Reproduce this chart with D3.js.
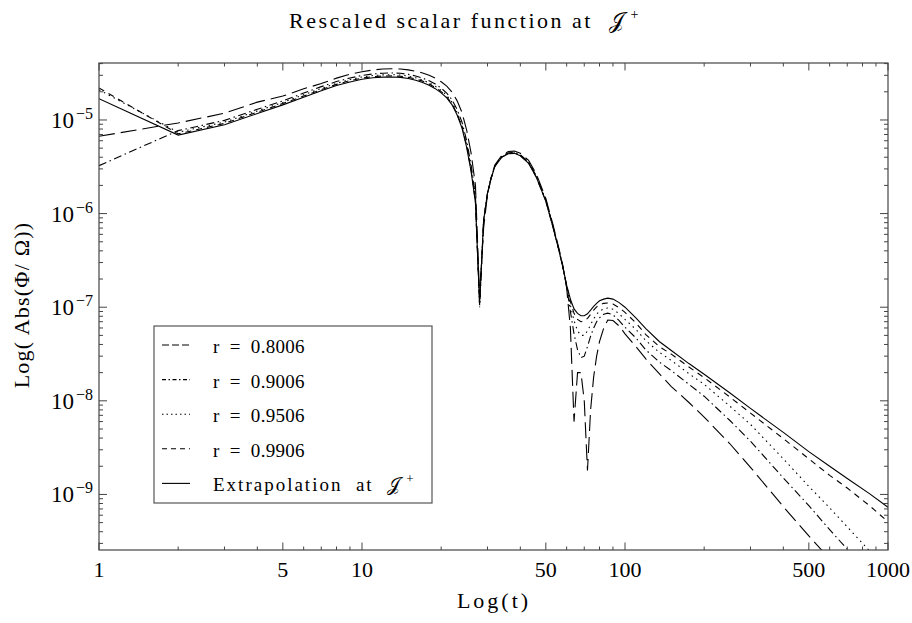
<!DOCTYPE html>
<html><head><meta charset="utf-8">
<script src="https://cdn.jsdelivr.net/npm/d3@7"></script>
<style>
html,body{margin:0;padding:0;background:#fff;}
svg{display:block;}
text{font-family:"Liberation Serif","Times New Roman",serif;fill:#000;white-space:pre;}
</style></head><body>
<svg id="chart" width="912" height="623"></svg>
<script>
const times = [1,2,3,4,5,6,7,8,9,10,11,12,13,14,15,16,17,18,19,20,21,22,23,24,25,26,27,28,29,30,31,32,34,36,38,40,43,46,50,53,56,58,60,62,64,66,68,70,72,74,76,78,80,83,86,90,95,100,110,120,135,150,175,200,250,300,400,500,600,700,850,1000];

const r08006 = [6.7e-6,9.3e-6,1.18e-5,1.55e-5,1.8e-5,2.15e-5,2.45e-5,2.8e-5,3.08e-5,3.28e-5,3.42e-5,3.5e-5,3.52e-5,3.5e-5,3.43e-5,3.32e-5,3.18e-5,3.0e-5,2.8e-5,2.56e-5,2.3e-5,1.98e-5,1.6e-5,1.2e-5,7.8e-6,4.4e-6,2.0e-6,1.3e-7,7.0e-7,1.6e-6,2.45e-6,3.3e-6,4.2e-6,4.6e-6,4.65e-6,4.4e-6,3.7e-6,2.65e-6,1.45e-6,8.0e-7,4.3e-7,2.8e-7,1.6e-7,6e-8,6e-9,2.0e-8,2.0e-8,1.0e-8,1.8e-9,8e-9,1.8e-8,3.0e-8,4.3e-8,6.0e-8,7.3e-8,7.2e-8,6.3e-8,5.2e-8,3.8e-8,2.8e-8,1.95e-8,1.42e-8,9.6e-9,6.7e-9,3.5e-9,1.95e-9,7.4e-10,3.6e-10,2.05e-10,1.15e-10,6.0e-11,3.7e-11];

const r09006 = [3.25e-6,7.7e-6,9.9e-6,1.3e-5,1.6e-5,1.94e-5,2.27e-5,2.57e-5,2.81e-5,2.99e-5,3.1e-5,3.16e-5,3.18e-5,3.15e-5,3.07e-5,2.95e-5,2.8e-5,2.62e-5,2.42e-5,2.19e-5,1.94e-5,1.64e-5,1.29e-5,9.5e-6,6.0e-6,3.3e-6,1.55e-6,1.05e-7,8.2e-7,1.65e-6,2.42e-6,3.25e-6,4.1e-6,4.45e-6,4.5e-6,4.25e-6,3.55e-6,2.52e-6,1.39e-6,7.7e-7,4.2e-7,2.75e-7,1.65e-7,9e-8,5.2e-8,3.5e-8,2.9e-8,3.0e-8,3.8e-8,4.9e-8,6.0e-8,7.0e-8,7.7e-8,8.4e-8,8.65e-8,8.3e-8,7.2e-8,6.1e-8,4.7e-8,3.5e-8,2.6e-8,2.1e-8,1.5e-8,1.12e-8,6.2e-9,3.7e-9,1.5e-9,7.6e-10,4.2e-10,2.6e-10,1.5e-10,9.2e-11];

const r09506 = [2.1e-5,7.4e-6,9.5e-6,1.25e-5,1.54e-5,1.86e-5,2.17e-5,2.46e-5,2.7e-5,2.88e-5,2.98e-5,3.03e-5,3.05e-5,3.02e-5,2.94e-5,2.82e-5,2.67e-5,2.49e-5,2.29e-5,2.07e-5,1.83e-5,1.54e-5,1.2e-5,8.8e-6,5.5e-6,3.0e-6,1.4e-6,1.0e-7,8.4e-7,1.65e-6,2.41e-6,3.22e-6,4.05e-6,4.4e-6,4.45e-6,4.2e-6,3.5e-6,2.48e-6,1.37e-6,7.6e-7,4.15e-7,2.72e-7,1.68e-7,1.05e-7,7.2e-8,5.6e-8,5.0e-8,5.0e-8,5.6e-8,6.5e-8,7.5e-8,8.4e-8,9.1e-8,9.6e-8,9.8e-8,9.5e-8,8.5e-8,7.4e-8,5.8e-8,4.4e-8,3.3e-8,2.7e-8,1.95e-8,1.5e-8,8.8e-9,5.6e-9,2.4e-9,1.22e-9,7.2e-10,4.5e-10,2.5e-10,1.55e-10];

const r09906 = [2.2e-5,7.1e-6,9.2e-6,1.21e-5,1.5e-5,1.8e-5,2.11e-5,2.4e-5,2.63e-5,2.8e-5,2.9e-5,2.95e-5,2.96e-5,2.93e-5,2.85e-5,2.74e-5,2.6e-5,2.42e-5,2.22e-5,2.01e-5,1.77e-5,1.49e-5,1.16e-5,8.5e-6,5.3e-6,2.9e-6,1.35e-6,1.05e-7,8.5e-7,1.65e-6,2.4e-6,3.2e-6,4.02e-6,4.37e-6,4.42e-6,4.17e-6,3.47e-6,2.46e-6,1.36e-6,7.55e-7,4.12e-7,2.71e-7,1.7e-7,1.15e-7,8.6e-8,7.4e-8,7.0e-8,7.1e-8,7.6e-8,8.4e-8,9.3e-8,1.01e-7,1.06e-7,1.1e-7,1.11e-7,1.08e-7,9.9e-8,8.8e-8,6.8e-8,5.1e-8,3.8e-8,3.15e-8,2.3e-8,1.77e-8,1.1e-8,7.4e-9,3.95e-9,2.4e-9,1.6e-9,1.17e-9,7.6e-10,5.1e-10];

const extrapolation = [1.69e-5,6.9e-6,8.9e-6,1.17e-5,1.45e-5,1.75e-5,2.05e-5,2.33e-5,2.55e-5,2.72e-5,2.82e-5,2.87e-5,2.88e-5,2.85e-5,2.77e-5,2.66e-5,2.52e-5,2.35e-5,2.16e-5,1.95e-5,1.72e-5,1.45e-5,1.13e-5,8.2e-6,5.1e-6,2.8e-6,1.3e-6,1.1e-7,8.5e-7,1.65e-6,2.4e-6,3.2e-6,4.0e-6,4.35e-6,4.4e-6,4.15e-6,3.45e-6,2.45e-6,1.35e-6,7.5e-7,4.1e-7,2.7e-7,1.72e-7,1.22e-7,9.6e-8,8.6e-8,8.1e-8,8.1e-8,8.5e-8,9.3e-8,1.02e-7,1.1e-7,1.17e-7,1.22e-7,1.25e-7,1.22e-7,1.12e-7,1.0e-7,7.7e-8,5.9e-8,4.3e-8,3.45e-8,2.5e-8,1.92e-8,1.22e-8,8.3e-9,4.6e-9,2.87e-9,2.0e-9,1.48e-9,1.02e-9,7.3e-10];

const seriesNames = ["r  =  0.8006","r  =  0.9006","r  =  0.9506","r  =  0.9906","Extrapolation  at  "];
const xMajorTicks = [1,5,10,50,100,500,1000];
const xTickLabels = ["1","5","10","50","100","500","1000"];
const yMajorTicks = [1e-9,1e-8,1e-7,1e-6,1e-5];
const yTickExponents = ["\u22129","\u22128","\u22127","\u22126","\u22125"];
const xDomain = [1,1000];
const yDomain = [2.55e-10,4.06e-5];

const seriesValues = [r08006,r09006,r09506,r09906,extrapolation];
const plotDash = ["16,6","8,3.5,1.5,3.5","1.5,4","6,5",null];
const legendDash = ["7,3","4,2.5,1.5,2.5","1.5,3","5,4",null];

const svg = d3.select("#chart");
const L=99,R=888,T=63,B=550;
const x = d3.scaleLog().domain(xDomain).range([L,R]);
const y = d3.scaleLog().domain(yDomain).range([B,T]);

svg.append("rect").attr("width",912).attr("height",623).attr("fill","#fff");

svg.append("defs").append("clipPath").attr("id","clip")
  .append("rect").attr("x",L).attr("y",T).attr("width",R-L).attr("height",B-T);

const line = d3.line().x(d=>x(d[0])).y(d=>y(d[1]));
const gLines = svg.append("g").attr("clip-path","url(#clip)");
seriesValues.forEach((vals,i)=>{
  const pts = times.map((t,j)=>[t,vals[j]]);
  gLines.append("path").datum(pts).attr("d",line)
    .attr("fill","none").attr("stroke","#000").attr("stroke-width",1.1)
    .attr("stroke-dasharray",plotDash[i]);
});

// frame
svg.append("rect").attr("x",L).attr("y",T).attr("width",R-L).attr("height",B-T)
  .attr("fill","none").attr("stroke","#444").attr("stroke-width",1.2);

// ticks
const tk = svg.append("g").attr("stroke","#444").attr("stroke-width",1);
const xAll = x.ticks();
xAll.forEach(v=>{
  const major = xMajorTicks.some(m=>Math.abs(m-v)<1e-9*m);
  const len = major?7.5:3.5;
  const px = x(v);
  tk.append("line").attr("x1",px).attr("x2",px).attr("y1",B).attr("y2",B-len);
  tk.append("line").attr("x1",px).attr("x2",px).attr("y1",T).attr("y2",T+len);
});
const yAll = y.ticks();
yAll.forEach(v=>{
  const major = yMajorTicks.some(m=>Math.abs(m-v)<1e-6*m);
  const len = major?8:4;
  const py = y(v);
  tk.append("line").attr("x1",L).attr("x2",L+len).attr("y1",py).attr("y2",py);
  tk.append("line").attr("x1",R).attr("x2",R-len).attr("y1",py).attr("y2",py);
});

// x tick labels
xMajorTicks.forEach((v,i)=>{
  svg.append("text").attr("x",x(v)).attr("y",577).attr("text-anchor","middle")
    .attr("font-size",22).text(xTickLabels[i]);
});
// y tick labels
yMajorTicks.forEach((v,i)=>{
  const t = svg.append("text").attr("x",93).attr("y",y(v)+8).attr("text-anchor","end");
  t.append("tspan").attr("font-size",23).text("10");
  t.append("tspan").attr("font-size",16).attr("dy",-9).attr("dx",2).text(yTickExponents[i]);
});

// title
const title = svg.append("text").attr("x",289).attr("y",28).attr("font-size",22)
  .attr("letter-spacing",2.5);
title.append("tspan").text("Rescaled scalar function at  ");
title.append("tspan").text("\uD835\uDCA5");
title.append("tspan").attr("font-size",14).attr("dy",-9).attr("dx",4).text("+");

// axis labels
svg.append("text").attr("x",494).attr("y",608).attr("text-anchor","middle")
  .attr("font-size",22).attr("letter-spacing",3).text("Log(t)");
svg.append("text").attr("transform","translate(29,305) rotate(-90)").attr("text-anchor","middle")
  .attr("font-size",22).attr("letter-spacing",1.2).text("Log( Abs(\u03A6/ \u03A9))");

// legend
const lg = svg.append("g");
lg.append("rect").attr("x",154).attr("y",326).attr("width",278).attr("height",177)
  .attr("fill","#fff").attr("stroke","#555").attr("stroke-width",1.2);
seriesNames.forEach((name,i)=>{
  const cy = 345 + i*34.6;
  lg.append("line").attr("x1",162).attr("x2",190).attr("y1",cy).attr("y2",cy)
    .attr("stroke","#000").attr("stroke-width",1.1).attr("stroke-dasharray",legendDash[i]);
  const t = lg.append("text").attr("x",213).attr("y",cy+8).attr("font-size",19)
    .attr("letter-spacing", i===4?2:0.3);
  t.append("tspan").text(name);
  if(i===4){
    t.append("tspan").text("\uD835\uDCA5");
    t.append("tspan").attr("font-size",13).attr("dy",-8).attr("dx",4).text("+");
  }
});
</script>
</body></html>
